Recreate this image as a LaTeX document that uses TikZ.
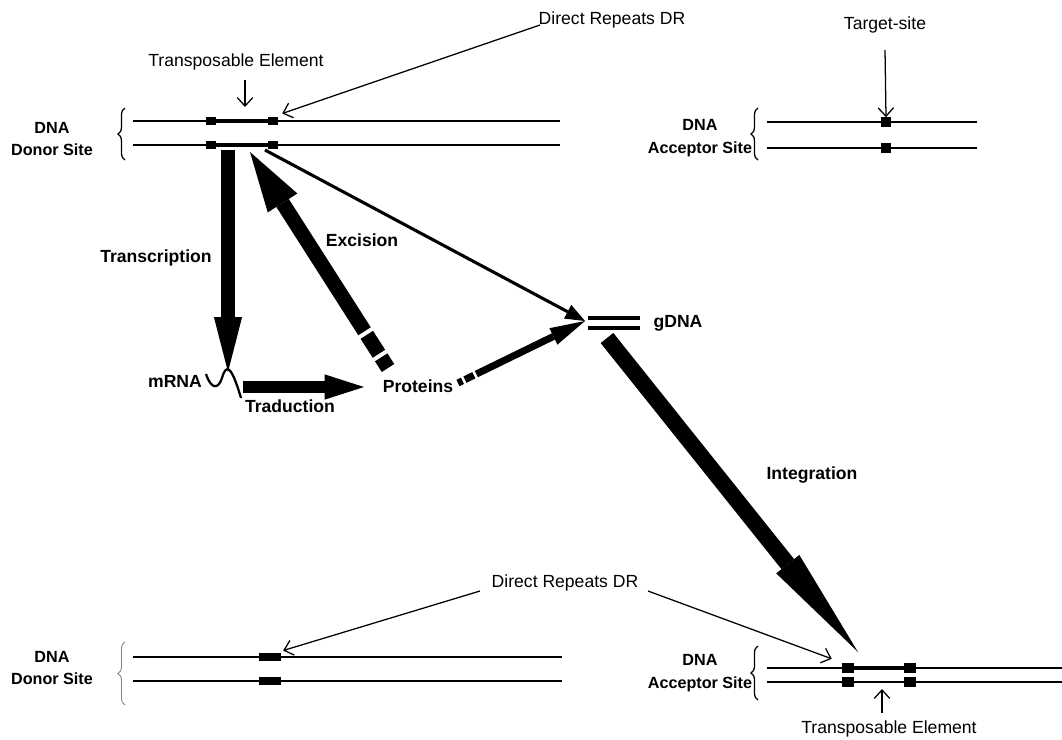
\documentclass[tikz,border=0pt]{standalone}
\usepackage{fontspec}
\setmainfont{Liberation Sans}
\usetikzlibrary{arrows.meta,decorations.pathreplacing,positioning,calc}
\tikzstyle{lbl}=[font=\fontsize{12.5}{14}\selectfont,inner sep=0pt]
\tikzstyle{blbl}=[font=\fontsize{12.5}{14}\selectfont\bfseries,inner sep=0pt]
\tikzstyle{site}=[font=\fontsize{11.5}{16}\selectfont\bfseries,inner sep=0pt,align=center]
\tikzstyle{strand}=[line width=1.4pt]
\tikzstyle{te}=[line width=2.6pt]
\tikzstyle{dr}=[fill=black,inner sep=0pt,minimum width=7pt,minimum height=6pt]
\tikzstyle{thin}=[line width=0.9pt,-{Straight Barb[length=6pt,width=11pt]}]
\tikzstyle{sbrace}=[decorate,decoration={brace,amplitude=5pt},line width=0.9pt]
\newcommand{\strands}[4]{% x1, x2, y top, y bottom
	\draw[strand] (#1,#3) -- (#2,#3);
	\draw[strand] (#1,#4) -- (#2,#4);
}

\begin{document}
\begin{tikzpicture}[x=0.025cm,y=-0.025cm]
\useasboundingbox (0,0) rectangle (1062,739);

% donor site, before
\node[site] (don1) at (52,139) {DNA\\Donor Site};
\draw[sbrace] (125,160) -- (125,108);
\strands{133}{560}{121}{145}
\draw[te] (211,121) -- (273,121);
\draw[te] (211,145) -- (273,145);
\node[dr] (a1) at (211,121) {};
\node[dr] (b1) at (273,121) {};
\node[dr] (a2) at (211,145) {};
\node[dr] (b2) at (273,145) {};
\node[lbl] (te1) at (236,62) {Transposable Element};
\coordinate (te1a) at (245,80);
\coordinate (te1b) at (245,107);
\draw[thin] (te1a) -- (te1b);
\node[lbl] (drt) at (612,20) {Direct Repeats DR};
\coordinate (drt1) at (540,25);
\draw[thin] (drt1) -- ($(b1.north east)+(4,-3)$);

% acceptor site, before
\node[site] (acc1) at (700,138) {DNA\\Acceptor Site};
\draw[sbrace] (758,160) -- (758,108);
\strands{767}{977}{122}{148}
\node[dr,minimum height=6.5pt] (t1) at (886,122) {};
\node[dr,minimum height=6.5pt] (t2) at (886,148) {};
\node[lbl] (ts) at (885,25) {Target-site};
\coordinate (ts1) at (885,50);
\draw[thin] (ts1) -- (t1.north);

% gDNA
\draw[te,line width=2.2pt] (588,318) -- (640,318);
\draw[te,line width=2.2pt] (588,328) -- (640,328);
\coordinate (g) at (585,321);
\coordinate (gi) at (607,338);
\node[blbl] (gdna) at (678,323) {gDNA};

% mRNA and proteins
\node[blbl] (mrna) at (175,381) {mRNA};
\draw[line width=1.6pt] (206,374) .. controls (211,389) and (218,390) .. (222,378)
	.. controls (226,364) and (231,364) .. (241,398);
\node[blbl] (prot) at (418,386) {Proteins};
\node[blbl] (trad) at (290,406) {Traduction};
\node[blbl] (trans) at (156,258) {Transcription};
\node[blbl] (exc) at (362,240) {Excision};
\node[blbl] (integ) at (812,475) {Integration};

\coordinate (tr0) at (228,150);
\coordinate (tr1) at (228,372);
\coordinate (ex0) at (388,368);
\coordinate (ex1) at (250,152);
\coordinate (dg0) at (265,150);
\coordinate (pr0) at (458,383);
\coordinate (mr0) at (243,387);
\coordinate (mr1) at (364,387);
\coordinate (in1) at (858,652);

\draw[line width=10pt,-{Triangle[length=39pt,width=20pt,line width=0pt]}] (tr0) -- (tr1);
\draw[line width=10.5pt,dash pattern=on 9pt off 3pt on 16pt off 3pt on 400pt,
	-{Triangle[length=43pt,width=25pt,line width=0pt]}] (ex0) -- (ex1);
\draw[line width=9pt,-{Triangle[length=28pt,width=18pt,line width=0pt]}] (mr0) -- (mr1);
\draw[line width=5pt,dash pattern=on 3.5pt off 2pt on 7pt off 2pt on 300pt,
	-{Triangle[length=25pt,width=13pt,line width=0pt]}] (pr0) -- (g);
\draw[line width=2.2pt,-{Triangle[length=14pt,width=11pt,line width=0pt]}] (dg0) -- (g);
\draw[line width=11.5pt,-{Triangle[length=80pt,width=21pt,line width=0pt]}] (gi) -- (in1);

% donor site, after
\node[site] (don2) at (52,668) {DNA\\Donor Site};
\draw[sbrace,line width=0.6pt,gray] (125,705) -- (125,642);
\strands{133}{562}{657}{681}
\node[dr,minimum width=15.5pt] (d1) at (270,657) {};
\node[dr,minimum width=15.5pt] (d2) at (270,681) {};

% acceptor site, after
\node[site] (acc2) at (700,673) {DNA\\Acceptor Site};
\draw[sbrace] (758,700) -- (758,646);
\strands{767}{1062}{668}{682}
\draw[te] (848,668) -- (910,668);
\node[dr,minimum width=8.5pt,minimum height=7pt] (e1) at (848,668) {};
\node[dr,minimum width=8.5pt,minimum height=7pt] (f1) at (910,668) {};
\node[dr,minimum width=8.5pt,minimum height=7pt] (e2) at (848,682) {};
\node[dr,minimum width=8.5pt,minimum height=7pt] (f2) at (910,682) {};
\node[lbl] (te2) at (889,729) {Transposable Element};
\coordinate (te2a) at (882,713);
\coordinate (te2b) at (882,689);
\draw[thin] (te2a) -- (te2b);
\node[lbl] (drb) at (565,583) {Direct Repeats DR};
\coordinate (drb1) at (480,591);
\coordinate (drb2) at (648,591);
\draw[thin] (drb1) -- ($(d1.north east)+(2,-2)$);
\draw[thin] (drb2) -- ($(e1.north west)+(-10,-4)$);
\end{tikzpicture}
\end{document}
